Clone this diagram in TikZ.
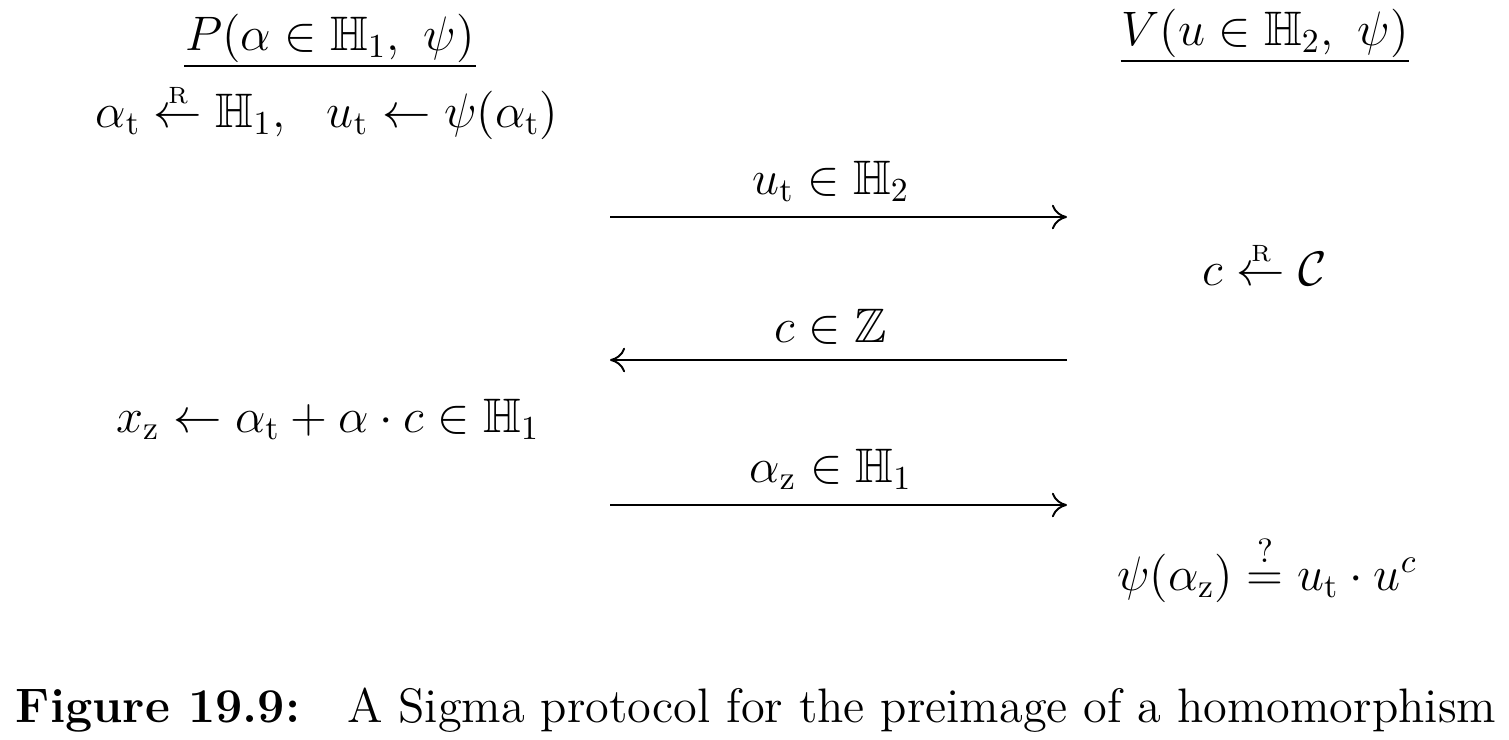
\documentclass[tikz,border=0pt]{standalone}
\usepackage{amsmath,amssymb}
\usetikzlibrary{arrows.meta,positioning}

% freccia di campionamento casuale
\newcommand{\sampleR}{\mathrel{\overset{\raisebox{-0.45ex}{$\scriptscriptstyle\mathrm{R}$}}{\leftarrow}}}

\begin{document}
\begin{tikzpicture}[x=1.045cm,y=1.045cm,>={Computer Modern Rightarrow[length=4.5pt,width=7.3pt]},
  line width=0.57pt, font=\Large,
  party/.style={anchor=base, inner xsep=0pt, inner ysep=2pt},
  step text/.style={anchor=base},
  msg/.style={midway, above=1pt, xshift=-0.08cm}]

\useasboundingbox (0,0) rectangle (15.09,-7.39);

% --- Parti
\node[party] (prover) at (3.30,-0.50) {$P(\alpha\in\mathbb{H}_1,\ \psi)$};
\node[party] (verifier) at (12.65,-0.45) {$V(u\in\mathbb{H}_2,\ \psi)$};
\draw ([yshift=-0.17cm]prover.base west) -- ([yshift=-0.17cm]prover.base east);
\draw ([yshift=-0.17cm]verifier.base west) -- ([yshift=-0.17cm]verifier.base east);

% --- Passi locali
\node[step text] (commit) at (3.27,-1.27)
  {$\alpha_{\mathrm{t}}\sampleR\mathbb{H}_1,\hspace{10pt}u_{\mathrm{t}}\leftarrow\psi(\alpha_{\mathrm{t}})$};
\node[step text] (challenge) at (12.65,-2.85) {$c\sampleR\mathcal{C}$};
\node[step text] (response) at (3.28,-4.32)
  {$x_{\mathrm{z}}\leftarrow\alpha_{\mathrm{t}}+\alpha\cdot c\in\mathbb{H}_1$};
\node[step text] (check) at (12.67,-5.90)
  {$\psi(\alpha_{\mathrm{z}})\stackrel{?}{=}u_{\mathrm{t}}\cdot u^c$};

% --- Messaggi
\coordinate (m1l) at (6.10,-2.17);
\coordinate (m1r) at (10.67,-2.17);
\coordinate (m2l) at (6.10,-3.60);
\coordinate (m2r) at (10.67,-3.60);
\coordinate (m3l) at (6.10,-5.05);
\coordinate (m3r) at (10.67,-5.05);

\draw[->] (m1l) -- (m1r) node[msg] (msgone) {$u_{\mathrm{t}}\in\mathbb{H}_2$};
\draw[->] (m2r) -- (m2l) node[msg] (msgtwo) {$c\in\mathbb{Z}$};
\draw[->] (m3l) -- (m3r) node[msg] (msgthree) {$\alpha_{\mathrm{z}}\in\mathbb{H}_1$};

% --- Didascalia
\node[anchor=base west, inner sep=0pt] (figlabel) at (0.15,-7.22) {\textbf{Figure 19.9:}};
\node[base right=0.45 of figlabel, inner sep=0pt] (caption)
  {A Sigma protocol for the preimage of a homomorphism};

\end{tikzpicture}
\end{document}
